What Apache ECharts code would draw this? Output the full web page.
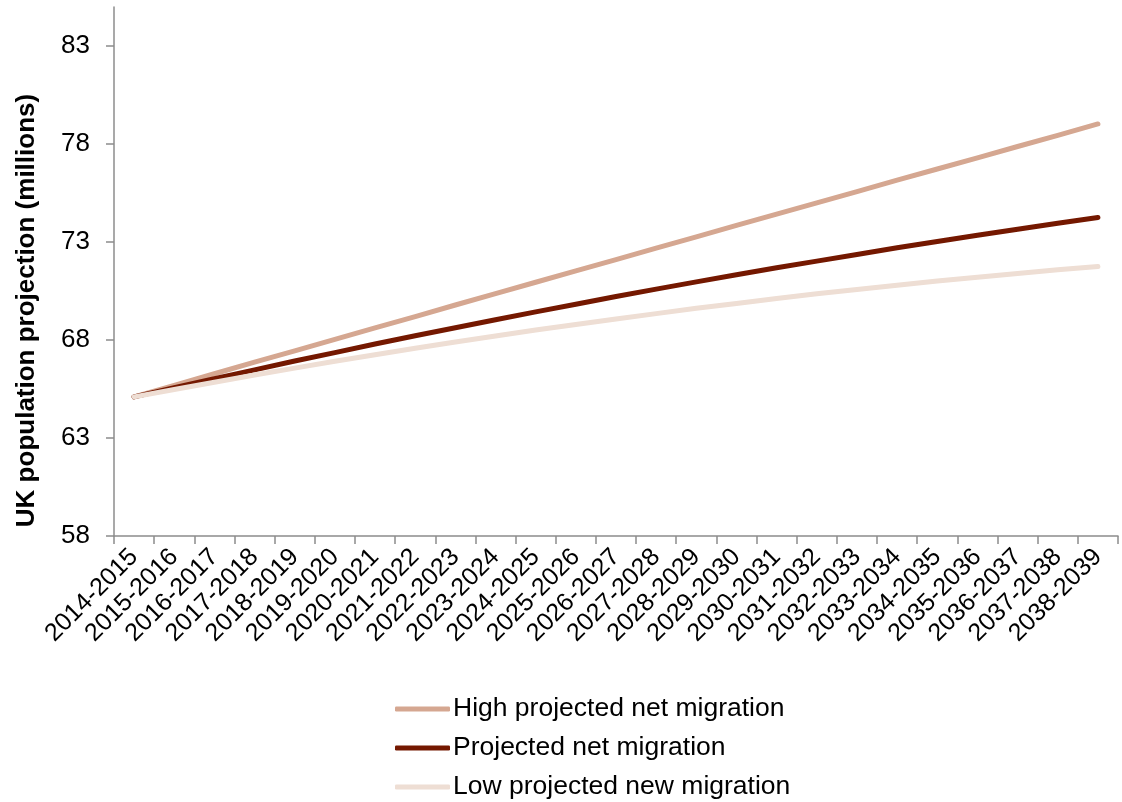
<!DOCTYPE html>
<html>
<head>
<meta charset="utf-8">
<script src="https://cdn.jsdelivr.net/npm/echarts@6/dist/echarts.min.js"></script>
<style>
  html, body { margin: 0; padding: 0; background: #ffffff; }
  #chart { width: 1122px; height: 802px; }
</style>
</head>
<body>
<div id="chart"></div>
<script>
// Financial years on the category axis
const years = [
  '2014-2015', '2015-2016', '2016-2017', '2017-2018', '2018-2019',
  '2019-2020', '2020-2021', '2021-2022', '2022-2023', '2023-2024',
  '2024-2025', '2025-2026', '2026-2027', '2027-2028', '2028-2029',
  '2029-2030', '2030-2031', '2031-2032', '2032-2033', '2033-2034',
  '2034-2035', '2035-2036', '2036-2037', '2037-2038', '2038-2039'
];

// UK population projections (millions)
const highMigration = [
  65.10, 65.69, 66.28, 66.87, 67.45, 68.04, 68.62, 69.20, 69.79, 70.37,
  70.95, 71.53, 72.11, 72.69, 73.27, 73.85, 74.43, 75.00, 75.58, 76.16,
  76.73, 77.30, 77.88, 78.45, 79.03
];
const projectedMigration = [
  65.10, 65.57, 66.03, 66.48, 66.93, 67.36, 67.80, 68.22, 68.63, 69.04,
  69.44, 69.83, 70.22, 70.60, 70.97, 71.33, 71.69, 72.03, 72.37, 72.71,
  73.03, 73.35, 73.66, 73.96, 74.26
];
const lowMigration = [
  65.10, 65.48, 65.85, 66.22, 66.57, 66.92, 67.25, 67.58, 67.90, 68.21,
  68.51, 68.80, 69.08, 69.35, 69.62, 69.87, 70.12, 70.36, 70.58, 70.80,
  71.01, 71.21, 71.40, 71.59, 71.76
];

// Value axis tick marks and labels
const yTicks = [58, 63, 68, 73, 78, 83];

const seriesNames = [
  'High projected net migration',
  'Projected net migration',
  'Low projected new migration'
];
const seriesColors = ['#D5A791', '#741800', '#EEDED4'];

const FONT = '"Liberation Sans", Arial, sans-serif';
const AXIS_GRAY = '#8c8c8c';

const chart = echarts.init(document.getElementById('chart'), null, { renderer: 'canvas' });

function lineSeries(name, data, color) {
  return {
    name: name,
    type: 'line',
    data: data,
    symbol: 'none',
    smooth: false,
    lineStyle: { color: color, width: 5, cap: 'round', join: 'round' },
    itemStyle: { color: color },
    emphasis: { disabled: true }
  };
}

chart.setOption({
  animation: false,
  backgroundColor: '#ffffff',
  grid: { left: 114, right: 4, top: 7, bottom: 266, containLabel: false },
  legend: {
    orient: 'vertical',
    left: 395,
    top: 695,
    padding: 0,
    itemWidth: 55,
    itemHeight: 5,
    itemGap: 11,
    icon: 'roundRect',
    data: seriesNames.map((n, i) => ({ name: n, itemStyle: { color: seriesColors[i] } })),
    textStyle: { fontFamily: FONT, fontSize: 26.5, color: '#000000', lineHeight: 28, padding: [0, 0, 0, -2] },
    selectedMode: false
  },
  xAxis: {
    type: 'category',
    data: years,
    boundaryGap: true,
    axisLine: { lineStyle: { color: AXIS_GRAY, width: 1.5 } },
    axisTick: { show: true, length: 8, alignWithLabel: false, lineStyle: { color: AXIS_GRAY, width: 1.5 } },
    axisLabel: {
      interval: 0,
      rotate: 45,
      margin: 17,
      fontFamily: FONT,
      fontSize: 25,
      color: '#000000'
    },
    splitLine: { show: false }
  },
  yAxis: {
    type: 'value',
    min: 58,
    max: 85,
    interval: 5,
    name: 'UK population projection (millions)',
    nameLocation: 'middle',
    nameRotate: 90,
    nameGap: 74,
    nameTextStyle: {
      fontFamily: FONT,
      fontSize: 26,
      fontWeight: 'bold',
      color: '#000000',
      padding: [0, 78, 0, 0]
    },
    axisLine: { show: true, lineStyle: { color: AXIS_GRAY, width: 1.5 } },
    axisTick: { show: true, length: 8, customValues: yTicks, lineStyle: { color: AXIS_GRAY, width: 1.5 } },
    axisLabel: {
      customValues: yTicks,
      margin: 24,
      fontFamily: FONT,
      fontSize: 26,
      color: '#000000'
    },
    splitLine: { show: false }
  },
  series: [
    lineSeries(seriesNames[0], highMigration, seriesColors[0]),
    lineSeries(seriesNames[1], projectedMigration, seriesColors[1]),
    lineSeries(seriesNames[2], lowMigration, seriesColors[2])
  ]
});
</script>
</body>
</html>
